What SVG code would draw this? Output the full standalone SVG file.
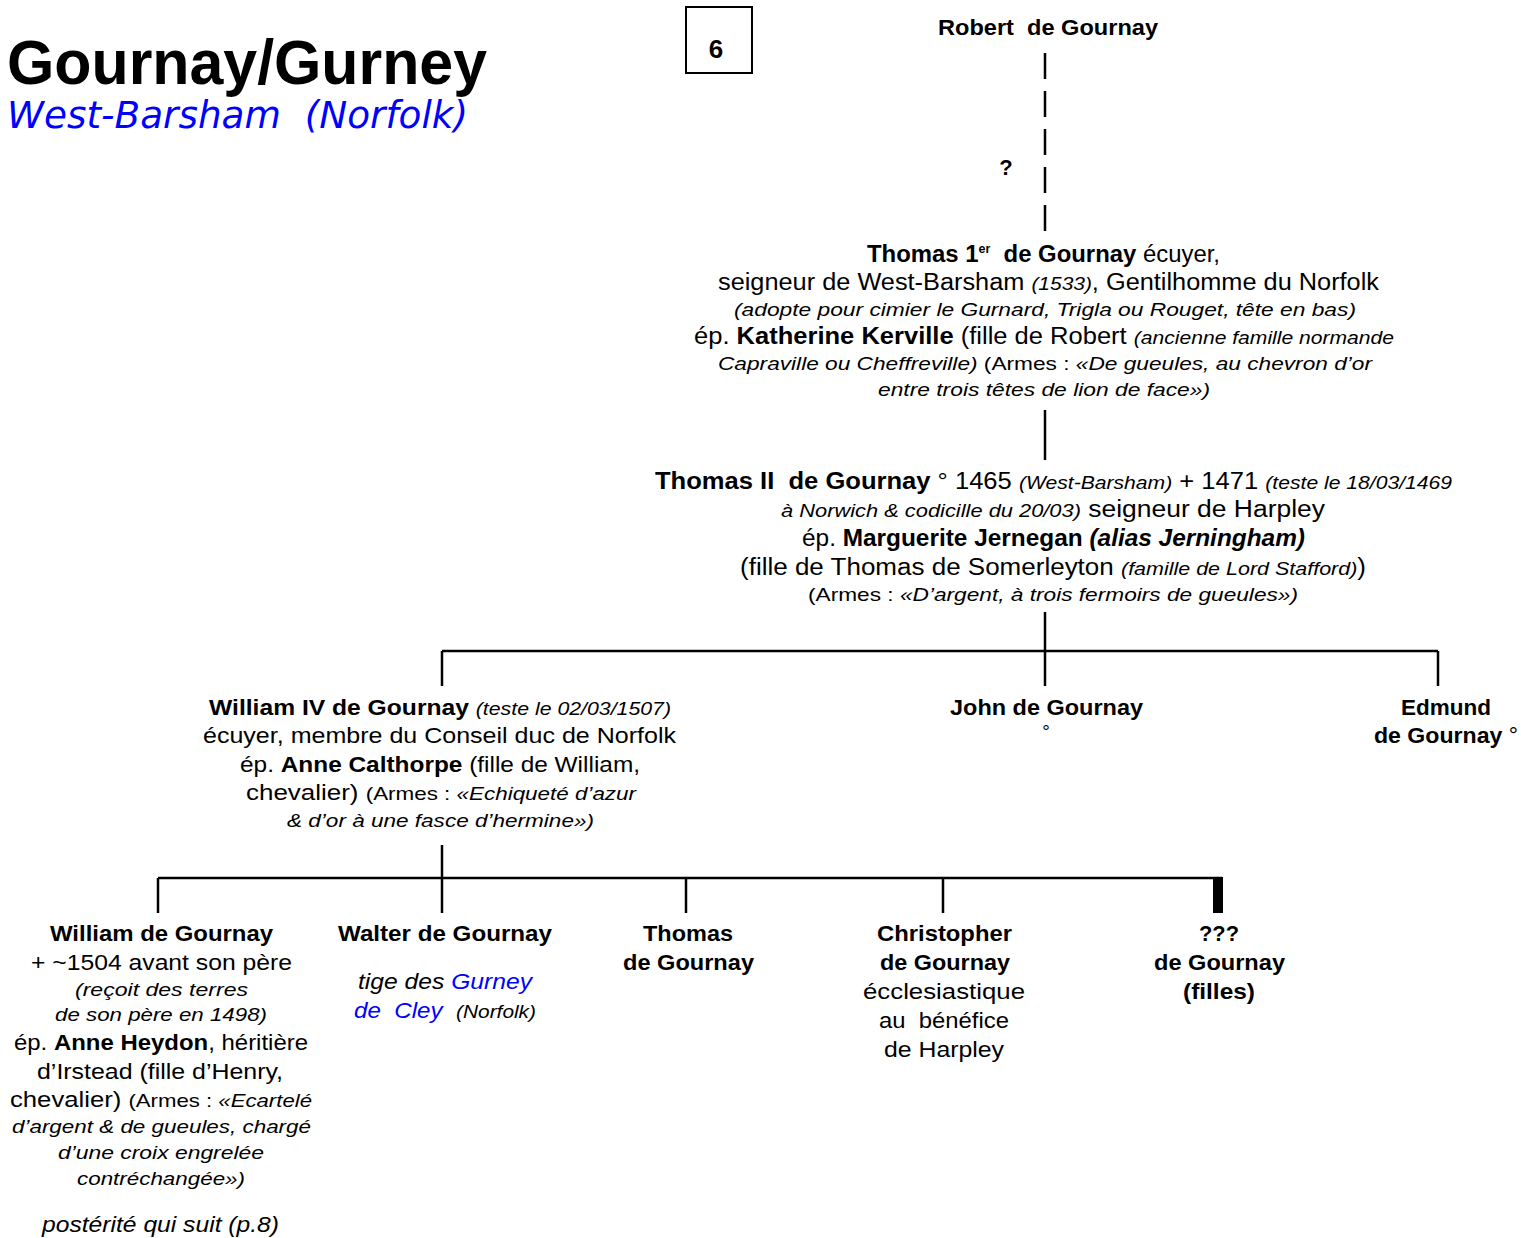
<svg xmlns="http://www.w3.org/2000/svg" width="1521" height="1238" viewBox="0 0 1521 1238">
<style>
text{font-family:"Liberation Sans",Arial,sans-serif;fill:#000;font-size:22px}
.b{font-weight:bold}
.i{font-style:italic}
.s{font-size:19px}
.n{font-size:23px}
.blue{fill:#0000ff}
.c line{stroke:#000;stroke-width:2.5}
</style>
<rect width="1521" height="1238" fill="#fff"/>
<g id="title">
<text x="7" y="84" class="b" style="font-size:63px" textLength="480" lengthAdjust="spacingAndGlyphs">Gournay/Gurney</text>
<text x="7" y="128" class="blue i" style="font-family:'DejaVu Sans',Verdana,sans-serif;font-size:37px" textLength="461" lengthAdjust="spacingAndGlyphs">West-Barsham&#160; (Norfolk)</text>
</g>
<g id="page">
<rect x="686" y="7" width="66" height="66" fill="none" stroke="#000" stroke-width="2"/>
<text x="716" y="58" class="b" style="font-size:26px" text-anchor="middle">6</text>
</g>
<g class="c" id="connectors">
<line x1="1045" y1="53" x2="1045" y2="233" stroke-dasharray="26 12"/>
<line x1="1045" y1="410" x2="1045" y2="460"/>
<line x1="1045" y1="612" x2="1045" y2="686"/>
<line x1="442" y1="651" x2="1438" y2="651"/>
<line x1="442" y1="651" x2="442" y2="686"/>
<line x1="1438" y1="651" x2="1438" y2="686"/>
<line x1="442" y1="845" x2="442" y2="913"/>
<line x1="158" y1="878" x2="1222" y2="878"/>
<line x1="158" y1="878" x2="158" y2="913"/>
<line x1="686" y1="878" x2="686" y2="913"/>
<line x1="943" y1="878" x2="943" y2="913"/>
<rect x="1213" y="877" width="10" height="36" fill="#000"/>
</g>
<g id="robert">
<text x="938" y="35" class="b" textLength="220" lengthAdjust="spacingAndGlyphs">Robert&#160; de Gournay</text>
<text x="1006" y="175" class="b" text-anchor="middle">?</text>
</g>
<g id="thomas1">
<text x="867" y="262" class="n" textLength="353" lengthAdjust="spacingAndGlyphs"><tspan class="b">Thomas 1</tspan><tspan class="b" style="font-size:12px" dy="-9">er</tspan><tspan class="b" dy="9">&#160; de Gournay</tspan> écuyer,</text>
<text x="718" y="290" class="n" textLength="661" lengthAdjust="spacingAndGlyphs">seigneur de West-Barsham <tspan class="i s">(1533)</tspan>, Gentilhomme du Norfolk</text>
<text x="734" y="316" class="i s" textLength="622" lengthAdjust="spacingAndGlyphs">(adopte pour cimier le Gurnard, Trigla ou Rouget, tête en bas)</text>
<text x="694" y="344" class="n" textLength="700" lengthAdjust="spacingAndGlyphs">ép. <tspan class="b">Katherine Kerville</tspan> (fille de Robert <tspan class="i s">(ancienne famille normande</tspan></text>
<text x="718" y="370" class="s" textLength="654" lengthAdjust="spacingAndGlyphs"><tspan class="i">Capraville ou Cheffreville)</tspan> (Armes : <tspan class="i">«De gueules, au chevron d’or</tspan></text>
<text x="878" y="396" class="i s" textLength="332" lengthAdjust="spacingAndGlyphs">entre trois têtes de lion de face»)</text>
</g>
<g id="thomas2">
<text x="655" y="489" class="n" textLength="797" lengthAdjust="spacingAndGlyphs"><tspan class="b">Thomas II&#160; de Gournay</tspan> ° 1465 <tspan class="i s">(West-Barsham)</tspan> + 1471 <tspan class="i s">(teste le 18/03/1469</tspan></text>
<text x="781" y="517" class="n" textLength="544" lengthAdjust="spacingAndGlyphs"><tspan class="i s">à Norwich &amp; codicille du 20/03)</tspan> seigneur de Harpley</text>
<text x="802" y="546" class="n" textLength="503" lengthAdjust="spacingAndGlyphs">ép. <tspan class="b">Marguerite Jernegan <tspan class="i">(alias Jerningham)</tspan></tspan></text>
<text x="740" y="575" class="n" textLength="626" lengthAdjust="spacingAndGlyphs">(fille de Thomas de Somerleyton <tspan class="i s">(famille de Lord Stafford)</tspan>)</text>
<text x="808" y="601" class="s" textLength="490" lengthAdjust="spacingAndGlyphs">(Armes : <tspan class="i">«D’argent, à trois fermoirs de gueules»)</tspan></text>
</g>
<g id="william4">
<text x="209" y="715" textLength="462" lengthAdjust="spacingAndGlyphs"><tspan class="b">William IV de Gournay</tspan> <tspan class="i s">(teste le 02/03/1507)</tspan></text>
<text x="203" y="743" textLength="473" lengthAdjust="spacingAndGlyphs">écuyer, membre du Conseil duc de Norfolk</text>
<text x="240" y="772" textLength="400" lengthAdjust="spacingAndGlyphs">ép. <tspan class="b">Anne Calthorpe</tspan> (fille de William,</text>
<text x="246" y="800" textLength="390" lengthAdjust="spacingAndGlyphs">chevalier) <tspan class="s">(Armes : <tspan class="i">«Echiqueté d’azur</tspan></tspan></text>
<text x="287" y="827" class="i s" textLength="307" lengthAdjust="spacingAndGlyphs">&amp; d’or à une fasce d’hermine»)</text>
</g>
<g id="john">
<text x="950" y="715" class="b" textLength="193" lengthAdjust="spacingAndGlyphs">John de Gournay</text>
<text x="1046" y="738" class="s" text-anchor="middle">°</text>
</g>
<g id="edmund">
<text x="1401" y="715" class="b" textLength="90" lengthAdjust="spacingAndGlyphs">Edmund</text>
<text x="1374" y="743" textLength="144" lengthAdjust="spacingAndGlyphs"><tspan class="b">de Gournay</tspan> °</text>
</g>
<g id="william">
<text x="50" y="941" class="b" textLength="223" lengthAdjust="spacingAndGlyphs">William de Gournay</text>
<text x="31" y="970" textLength="261" lengthAdjust="spacingAndGlyphs">+ ~1504 avant son père</text>
<text x="75" y="996" class="i s" textLength="173" lengthAdjust="spacingAndGlyphs">(reçoit des terres</text>
<text x="55" y="1021" class="i s" textLength="212" lengthAdjust="spacingAndGlyphs">de son père en 1498)</text>
<text x="14" y="1050" textLength="294" lengthAdjust="spacingAndGlyphs">ép. <tspan class="b">Anne Heydon</tspan>, héritière</text>
<text x="37" y="1079" textLength="246" lengthAdjust="spacingAndGlyphs">d’Irstead (fille d’Henry,</text>
<text x="10" y="1107" textLength="302" lengthAdjust="spacingAndGlyphs">chevalier) <tspan class="s">(Armes : <tspan class="i">«Ecartelé</tspan></tspan></text>
<text x="12" y="1133" class="i s" textLength="299" lengthAdjust="spacingAndGlyphs">d’argent &amp; de gueules, chargé</text>
<text x="58" y="1159" class="i s" textLength="206" lengthAdjust="spacingAndGlyphs">d’une croix engrelée</text>
<text x="77" y="1185" class="i s" textLength="168" lengthAdjust="spacingAndGlyphs">contréchangée»)</text>
<text x="42" y="1232" class="i" textLength="237" lengthAdjust="spacingAndGlyphs">postérité qui suit (p.8)</text>
</g>
<g id="walter">
<text x="338" y="941" class="b" textLength="214" lengthAdjust="spacingAndGlyphs">Walter de Gournay</text>
<text x="358" y="989" class="i" textLength="174" lengthAdjust="spacingAndGlyphs">tige des <tspan class="blue">Gurney</tspan></text>
<text x="354" y="1018" class="i" textLength="182" lengthAdjust="spacingAndGlyphs"><tspan class="blue">de&#160; Cley</tspan>&#160; <tspan class="s">(Norfolk)</tspan></text>
</g>
<g id="thomas">
<text x="643" y="941" class="b" textLength="90" lengthAdjust="spacingAndGlyphs">Thomas</text>
<text x="623" y="970" class="b" textLength="131" lengthAdjust="spacingAndGlyphs">de Gournay</text>
</g>
<g id="christopher">
<text x="877" y="941" class="b" textLength="135" lengthAdjust="spacingAndGlyphs">Christopher</text>
<text x="880" y="970" class="b" textLength="130" lengthAdjust="spacingAndGlyphs">de Gournay</text>
<text x="863" y="999" textLength="162" lengthAdjust="spacingAndGlyphs">écclesiastique</text>
<text x="879" y="1028" textLength="130" lengthAdjust="spacingAndGlyphs">au&#160; bénéfice</text>
<text x="884" y="1057" textLength="120" lengthAdjust="spacingAndGlyphs">de Harpley</text>
</g>
<g id="filles">
<text x="1199" y="941" class="b" textLength="40" lengthAdjust="spacingAndGlyphs">???</text>
<text x="1154" y="970" class="b" textLength="131" lengthAdjust="spacingAndGlyphs">de Gournay</text>
<text x="1183" y="999" class="b" textLength="72" lengthAdjust="spacingAndGlyphs">(filles)</text>
</g>
</svg>
